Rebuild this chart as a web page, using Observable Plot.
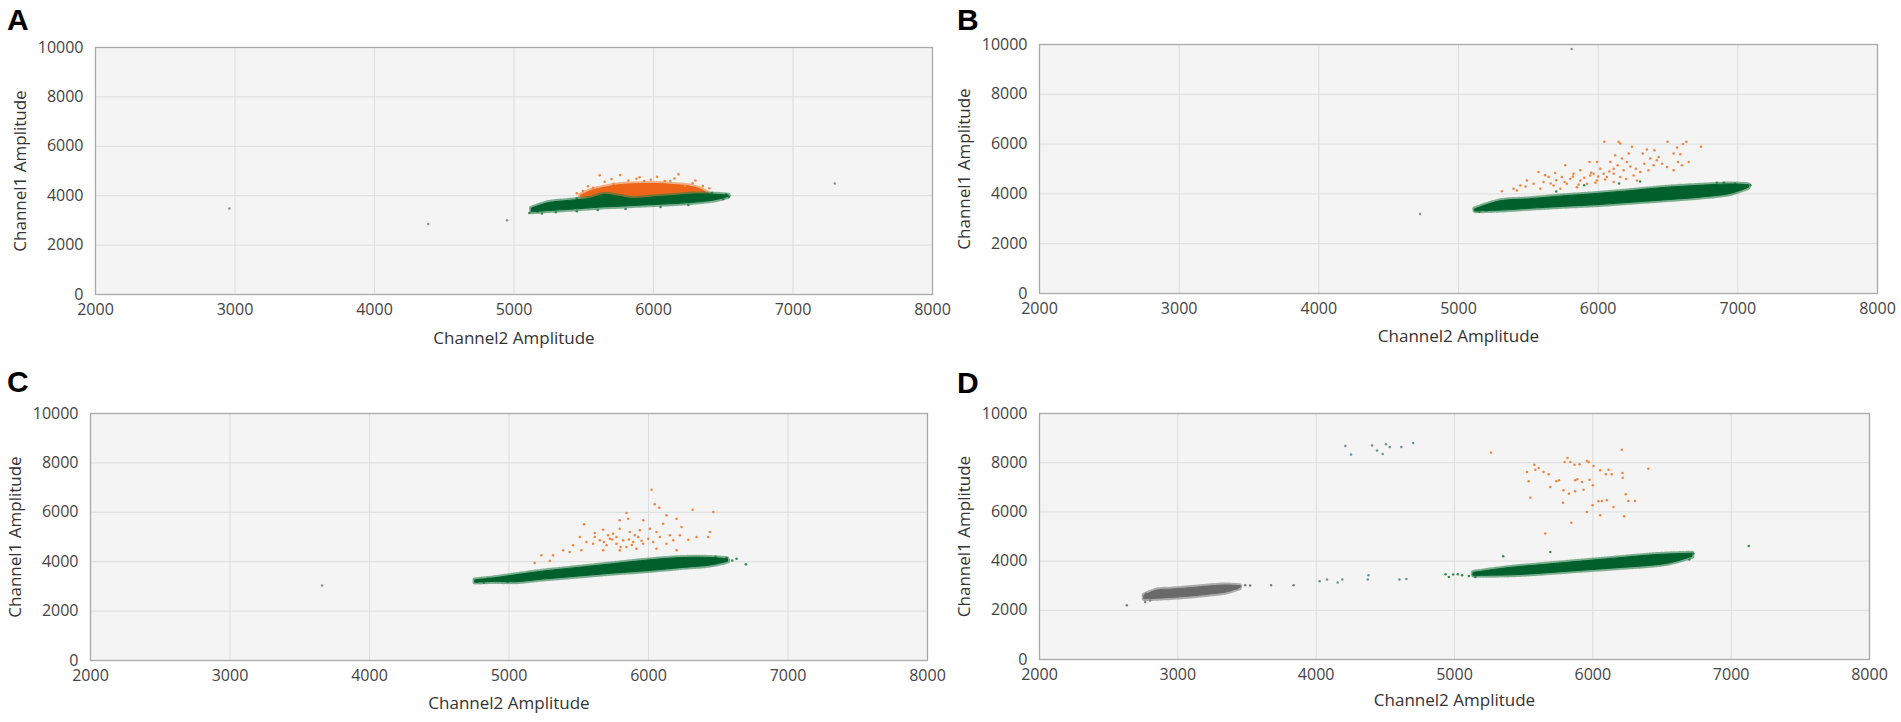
<!DOCTYPE html>
<html><head><meta charset="utf-8">
<script src="https://cdn.jsdelivr.net/npm/d3@7"></script>
<script src="https://cdn.jsdelivr.net/npm/@observablehq/plot@0.6"></script>
<style>
body{margin:0;background:#fff;}
#root{position:relative;width:1901px;height:722px;overflow:hidden;background:#fff;}
.panel{position:absolute;}
.letter{position:absolute;font:bold 30px "Liberation Sans",Arial,sans-serif;line-height:30px;color:#000;z-index:2;}
</style></head><body><div id="root"></div>
<script>
// ---------- shared axis data ----------
const xTicks = [2000, 3000, 4000, 5000, 6000, 7000, 8000];
const yTicks = [0, 2000, 4000, 6000, 8000, 10000];
const xLabel = "Channel2 Amplitude";
const yLabel = "Channel1 Amplitude";
const panelLetters = ["A", "B", "C", "D"];

// ---------- Panel A ----------
const aGreenX    = [5130, 5250, 5400, 5550, 5650, 5750, 5850, 6000, 6150, 6300, 6450, 6540];
const aGreenLow  = [3330, 3380, 3430, 3490, 3530, 3550, 3580, 3620, 3660, 3720, 3820, 3960];
const aGreenHigh = [3480, 3700, 3790, 3880, 4030, 3960, 3870, 3930, 3990, 4050, 4040, 4000];
const aOrangeX    = [5480, 5560, 5650, 5750, 5850, 5950, 6050, 6150, 6250, 6340, 6400];
const aOrangeLow  = [3950, 3900, 3950, 3880, 3840, 3860, 3900, 3940, 3970, 3990, 4000];
const aOrangeHigh = [4000, 4200, 4320, 4420, 4460, 4470, 4470, 4430, 4380, 4250, 4050];
const aOrangeDots = [[5615,4824],[5761,4837],[6025,4770],[6179,4864],[5878,4689],[6354,4392],[6226,4392],[5567,4324],[5494,4189],[6080,4594],[5714,4486],[5933,4594],[5650,4560],[5820,4620],[5980,4650],[6120,4600],[6280,4500],[5530,4380],[6400,4300],[5450,4100],[5700,4680],[6150,4700],[6300,4620],[5900,4750]];
const aGreenDots = [[5110,3300],[5130,3420],[5150,3500],[5170,3350],[5190,3580],[5200,3280],[5230,3470],[5260,3620],[5300,3330],[5350,3700],[5450,3370],[5600,3420],[5800,3460],[6050,3540],[6250,3620],[6420,4110],[6460,3930],[6490,4020],[6520,4060],[6500,3860],[6540,3950],[6380,4100],[5450,3900],[5600,3950]];
const aGrayDots = [[2960,3480],[4385,2850],[4950,3010],[7300,4490]];

// ---------- Panel B ----------
const bGreenX    = [5120, 5300, 5500, 5750, 6000, 6250, 6500, 6750, 6950, 7080];
const bGreenLow  = [3300, 3330, 3400, 3480, 3550, 3650, 3750, 3860, 4000, 4250];
const bGreenHigh = [3380, 3700, 3780, 3900, 4000, 4120, 4250, 4330, 4380, 4350];
const bOrangeDots = [[6044,6094],[6146,6094],[6158,6025],[6242,5890],[6497,6094],[6564,5863],[6607,6000],[6631,6094],[6736,5890],[6349,5782],[6318,5620],[6402,5755],[6433,5485],[6373,5418],[6540,5620],[6588,5593],[6218,5620],[6122,5553],[6087,5283],[6139,5148],[6206,5283],[6270,5013],[6330,5215],[6397,5148],[6457,5215],[6493,5080],[6571,5283],[6648,5283],[6600,5148],[6540,4945],[5938,5283],[5991,5283],[6015,5013],[5967,4810],[5872,4945],[5824,4810],[5764,5148],[5692,4837],[5740,4675],[5645,4675],[5573,4878],[5609,4473],[5537,4405],[5490,4540],[5442,4338],[5394,4203],[5310,4108],[5418,4135],[5681,4338],[5776,4405],[5872,4540],[5920,4405],[6063,4675],[6111,4810],[6182,4945],[6254,4743],[6111,4473],[5991,4540],[5800,4608],[5848,4270],[5729,4203],[5585,4203],[5943,4743],[6039,4810],[6158,4675],[6278,4540],[6302,4878],[6111,5013],[6170,5418],[5700,4550],[5760,4480],[5820,4700],[5900,4650],[5950,4850],[6000,4700],[6050,4580],[6080,4900],[5660,4420],[5860,4380],[6200,4600],[6230,5100],[6360,4950],[6420,5350],[5480,4300],[5620,4750],[5980,4450]];
const bGreenDots = [[5130,3330],[5170,3400],[5200,3320],[5230,3450],[5260,3380],[5290,3500],[5150,3280],[7050,4300],[7090,4350],[7020,4200],[6980,4420],[6900,4450],[6850,4450],[7000,4330],[5900,4350],[6150,4420],[6300,4500],[5700,4100]];
const bGrayDots = [[4725,3190],[5810,9820]];

// ---------- Panel C ----------
const cGreenX    = [4760, 4900, 5050, 5250, 5500, 5750, 6000, 6250, 6450, 6570];
const cGreenLow  = [3150, 3180, 3170, 3280, 3400, 3520, 3620, 3750, 3850, 4000];
const cGreenHigh = [3250, 3330, 3450, 3600, 3750, 3900, 4050, 4150, 4150, 4100];
const cOrangeDots = [[6022,6918],[6045,6324],[6077,6189],[6316,6108],[6464,6013],[5842,5972],[6129,5878],[6201,5743],[5538,5513],[5794,5675],[5854,5743],[5962,5675],[6105,5540],[6237,5405],[6440,5202],[6344,5000],[6428,5000],[6285,4892],[6225,5067],[6177,4865],[5615,5162],[5675,5297],[5746,5135],[5794,5337],[5866,5202],[5938,5270],[6010,5337],[6057,5202],[5555,4797],[5603,4730],[5651,4865],[5699,4662],[5723,4932],[5770,4730],[5818,4865],[5842,4594],[5890,4797],[5926,5000],[5962,4730],[5998,4932],[6033,4797],[6081,5000],[6129,4730],[6153,5067],[5507,5000],[5459,4662],[5388,4459],[5316,4257],[5232,4257],[5184,3946],[5292,4027],[5435,4392],[5519,4459],[5675,4459],[5794,4459],[5914,4527],[6057,4527],[6201,4459],[5615,5000],[5710,5067],[5902,5067],[5770,5000],[5680,4800],[5740,4900],[5860,4900],[5950,4850],[5800,4600],[5880,4680]];
const cGreenDots = [[4780,3200],[4820,3150],[4860,3260],[4900,3220],[4950,3300],[4990,3180],[5020,3350],[4850,3320],[6560,4150],[6520,4000],[6631,4120],[6698,3892],[6480,4200],[6600,4050]];
const cGrayDots = [[3660,3040]];

// ---------- Panel D ----------
const dGrayX    = [2760, 2850, 2950, 3050, 3150, 3250, 3350, 3450];
const dGrayLow  = [2450, 2470, 2500, 2540, 2590, 2650, 2720, 2900];
const dGrayHigh = [2600, 2800, 2840, 2880, 2930, 2980, 3010, 2980];
const dGrayDots = [[2631,2207],[2764,2342],[2771,2680],[3451,2978],[3487,3019],[3523,3005],[3427,2884],[3675,3019],[3837,3019],[2800,2400],[2790,2600]];
const dTealDots = [[4025,3181],[4078,3249],[4156,3127],[4189,3249],[4378,3425],[4373,3249],[4602,3249],[4652,3276],[4211,8677],[4252,8338],[4404,8704],[4440,8501],[4481,8352],[4505,8745],[4532,8636],[4616,8636],[4701,8799]];
const dGreenX    = [5140, 5400, 5600, 5800, 6000, 6200, 6400, 6550, 6720];
const dGreenLow  = [3400, 3420, 3480, 3560, 3640, 3720, 3800, 3900, 4170];
const dGreenHigh = [3520, 3720, 3820, 3920, 4020, 4120, 4220, 4270, 4300];
const dGreenDots = [[4935,3465],[4959,3357],[4990,3452],[5024,3465],[5055,3425],[5104,3398],[5140,3465],[5188,3520],[5151,3357],[5352,4196],[5692,4372],[6594,4237],[6650,4150],[6726,4305],[6697,4061],[6620,4050],[7127,4616]];
const dOrangeDots = [[5264,8406],[6209,8528],[5817,8190],[5957,8068],[5969,8027],[5837,8027],[5868,7919],[5904,7932],[5796,8027],[5577,7919],[5608,7783],[5584,7716],[5524,7621],[5644,7621],[5680,7526],[6005,7865],[6053,7689],[6113,7716],[6137,7526],[6094,7526],[6214,7580],[6216,7391],[6401,7756],[5536,7242],[5736,7242],[5755,7283],[5692,7012],[5872,7283],[5888,7323],[5921,7215],[5976,7310],[6000,7080],[5788,6877],[5827,6741],[5872,6836],[5933,6904],[5548,6579],[5784,6376],[6041,6430],[6065,6443],[6101,6470],[6238,6714],[6257,6443],[6305,6443],[5998,6267],[6149,6200],[5957,5997],[6053,5861],[6226,5821],[5844,5564],[5656,5117]];

// ---------- colours ----------
const C = {
  bg: "#f4f4f4", grid: "#dcdcdc", frame: "#a9a9a9",
  greenCore: "#00602b", greenHalo: "#2a7f4a", greenDot: "#2e8a50",
  orangeCore: "#ee6418", orangeDot: "#f0843c",
  grayCore: "#696969", grayDot: "#7c7c7c", stray: "#8e8e8e", teal: "#6a8f96"
};

function band(xs, lo, hi, core, halo) {
  return [
    // speckled fringe around the dense cluster
    Plot.area(xs, {x1: xs, y1: lo, y2: hi, fill: "none", stroke: halo, strokeWidth: 5, strokeDasharray: "1 2", strokeOpacity: 0.6, curve: "catmull-rom"}),
    Plot.area(xs, {x1: xs, y1: lo, y2: hi, fill: core, stroke: core, strokeWidth: 1, curve: "catmull-rom"})
  ];
}
function dots(pts, color, r = 1.25) {
  return Plot.dot(pts, {x: d => d[0], y: d => d[1], r, fill: color, stroke: "none"});
}

const panels = [
  {left: 0,   top: 0,   width: 945, height: 361, mL: 95, mT: 47, mR: 13, mB: 67, tdy: 49,
   marks: [dots(aGreenDots, C.greenDot), ...band(aOrangeX, aOrangeLow, aOrangeHigh, C.orangeCore, C.orangeDot), dots(aOrangeDots, C.orangeDot), ...band(aGreenX, aGreenLow, aGreenHigh, C.greenCore, C.greenHalo), dots(aGrayDots, C.stray)]},
  {left: 945, top: 0,   width: 956, height: 361, mL: 94, mT: 44, mR: 24, mB: 68, tdy: 48,
   marks: [dots(bGreenDots, C.greenDot), dots(bOrangeDots, C.orangeDot), ...band(bGreenX, bGreenLow, bGreenHigh, C.greenCore, C.greenHalo), dots(bGrayDots, C.stray)]},
  {left: 0,   top: 361, width: 945, height: 361, mL: 90, mT: 52, mR: 18, mB: 62, tdy: 48,
   marks: [dots(cGreenDots, C.greenDot), dots(cOrangeDots, C.orangeDot), ...band(cGreenX, cGreenLow, cGreenHigh, C.greenCore, C.greenHalo), dots(cGrayDots, C.stray)]},
  {left: 945, top: 361, width: 956, height: 361, mL: 94, mT: 52, mR: 32, mB: 63, tdy: 46,
   marks: [dots(dGrayDots, C.grayDot), ...band(dGrayX, dGrayLow, dGrayHigh, C.grayCore, C.grayDot), dots(dTealDots, C.teal), dots(dGreenDots, C.greenDot), ...band(dGreenX, dGreenLow, dGreenHigh, C.greenCore, C.greenHalo), dots(dOrangeDots, C.orangeDot)]}
];
const letterPos = [[7, 5], [957, 5], [7, 367], [957, 368]];

const root = document.getElementById("root");
panels.forEach((p, i) => {
  const svg = Plot.plot({
    width: p.width, height: p.height,
    marginLeft: p.mL, marginTop: p.mT, marginRight: p.mR, marginBottom: p.mB,
    style: {fontFamily: "'Open Sans', sans-serif", fontSize: "16px", color: "#444", background: "transparent", overflow: "visible"},
    x: {domain: [2000, 8000], ticks: xTicks, tickSize: 0, tickPadding: 9, tickFormat: "d", label: null},
    y: {domain: [0, 10000], ticks: yTicks, tickSize: 0, tickPadding: 12, tickFormat: "d", label: null},
    marks: [
      Plot.frame({fill: C.bg}),
      Plot.gridX(xTicks, {stroke: C.grid, strokeOpacity: 1}),
      Plot.gridY(yTicks, {stroke: C.grid, strokeOpacity: 1}),
      ...p.marks,
      Plot.frame({stroke: C.frame, strokeWidth: 1.3}),
      Plot.text([xLabel], {frameAnchor: "bottom", dy: p.tdy, fontSize: 17, fill: "#333"}),
      Plot.text([yLabel], {frameAnchor: "left", dx: -75, rotate: -90, textAnchor: "middle", fontSize: 17, fill: "#333"})
    ]
  });
  svg.classList.add("panel");
  svg.style.left = p.left + "px";
  svg.style.top = p.top + "px";
  root.appendChild(svg);
  const L = document.createElement("div");
  L.className = "letter";
  L.textContent = panelLetters[i];
  L.style.left = letterPos[i][0] + "px";
  L.style.top = letterPos[i][1] + "px";
  root.appendChild(L);
});
</script></body></html>
